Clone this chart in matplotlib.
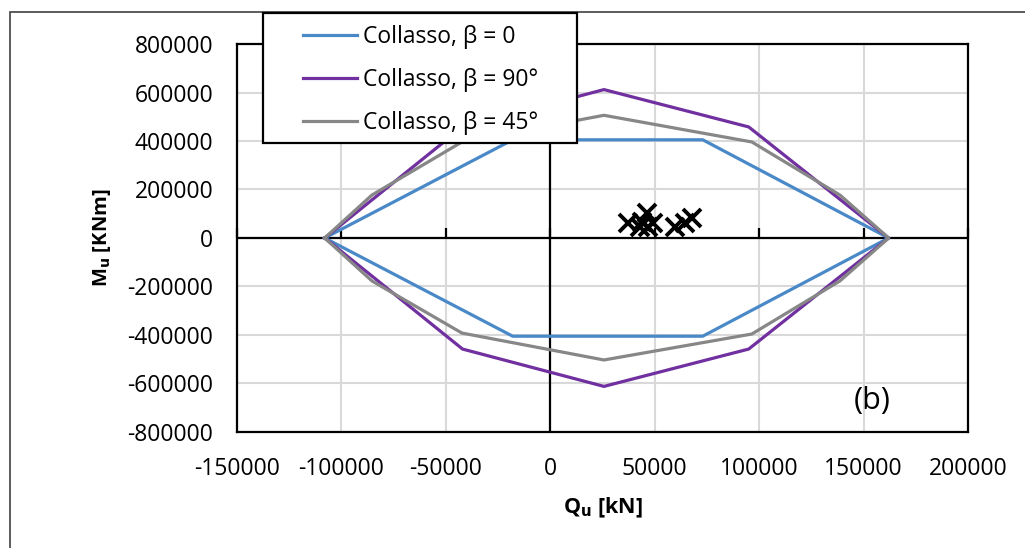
import matplotlib.pyplot as plt
from matplotlib.patches import Rectangle

plt.rcParams['font.family'] = ['Open Sans', 'DejaVu Sans']
plt.rcParams['axes.unicode_minus'] = False

# interaction domains (Q [kN], M [kNm])
q_beta0 = [-108000, -18000, 73000, 162000, 73000, -18000, -108000]
m_beta0 = [0, 405000, 405000, 0, -405000, -405000, 0]

q_beta90 = [-108000, -42000, 25700, 95000, 162000, 95000, 25700, -42000, -108000]
m_beta90 = [0, 458000, 612000, 458000, 0, -458000, -612000, -458000, 0]

q_beta45 = [-108000, -85400, -42300, 25700, 96500, 138700, 162000,
            138700, 96500, 25700, -42300, -85400, -108000]
m_beta45 = [0, 177000, 396000, 506000, 396000, 177000, 0,
            -177000, -396000, -503000, -392000, -177000, 0]

# design actions
q_act = [37300, 46100, 43700, 49300, 46900, 42900, 59700, 67700, 64500]
m_act = [60600, 101800, 67000, 60600, 46600, 46600, 44000, 81000, 60600]

x_ticks = [-150000, -100000, -50000, 0, 50000, 100000, 150000, 200000]
y_ticks = [-800000, -600000, -400000, -200000, 0, 200000, 400000, 600000, 800000]

fig = plt.figure(figsize=(10.25, 5.48), dpi=100)
ax = fig.add_axes([0.2312, 0.2117, 0.7132, 0.708])

ax.grid(True, color='#d9d9d9', lw=1.5, zorder=0)
ax.axhline(0, color='black', lw=1.6, zorder=2)
ax.axvline(0, color='black', lw=1.6, zorder=2)
# small tick marks on the horizontal zero axis
ax.plot(x_ticks, [0] * len(x_ticks), ls='none', marker=2, ms=7, mew=1.6,
        color='black', zorder=2, clip_on=False)

l1, = ax.plot(q_beta0, m_beta0, color='#4a89c8', lw=2.3, zorder=3,
              label='Collasso, β = 0')
l2, = ax.plot(q_beta90, m_beta90, color='#7030a0', lw=2.3, zorder=3,
              label='Collasso, β = 90°')
l3, = ax.plot(q_beta45, m_beta45, color='#878787', lw=2.3, zorder=3,
              label='Collasso, β = 45°')
ax.plot(q_act, m_act, ls='none', marker='x', ms=13, mew=2.8, color='black',
        zorder=4)

ax.set_xlim(-150000, 200000)
ax.set_ylim(-800000, 800000)
ax.set_xticks(x_ticks)
ax.set_yticks(y_ticks)
ax.tick_params(length=0, labelsize=16.5)
ax.tick_params(axis='x', pad=18)
ax.tick_params(axis='y', pad=17)
for s in ax.spines.values():
    s.set_color('black')
    s.set_linewidth(1.6)

ax.set_xlabel('Q$_\\mathbf{u}$ [kN]', fontsize=15.5, fontweight='bold', labelpad=11)
ax.set_ylabel('M$_\\mathbf{u}$ [KNm]', fontsize=14.5, fontweight='bold', labelpad=10)

ax.text(0.869, 0.08, '(b)', transform=ax.transAxes, fontsize=22,
        ha='center', va='center')

# legend box drawn separately so it can be wider than its entries
fig.patches.append(Rectangle((263 / 1025, 1 - 143 / 548), 314 / 1025, 130 / 548,
                             transform=fig.transFigure, facecolor='white',
                             edgecolor='black', lw=1.6, zorder=9))
leg = fig.legend(handles=[l1, l2, l3], loc='center left',
                 bbox_to_anchor=(303 / 1025, 1 - 80 / 548), fontsize=16.5,
                 frameon=False, handlelength=2.36, handletextpad=0.26,
                 labelspacing=0.82, borderpad=0, borderaxespad=0)
leg.set_zorder(10)

# outer chart frame
fig.patches.append(Rectangle((10 / 1025, -0.1), 1.2, 1 - 12 / 548 + 0.1,
                             transform=fig.transFigure, fill=False,
                             edgecolor='#404040', lw=1.2))

fig.savefig('out.png', dpi=100)
